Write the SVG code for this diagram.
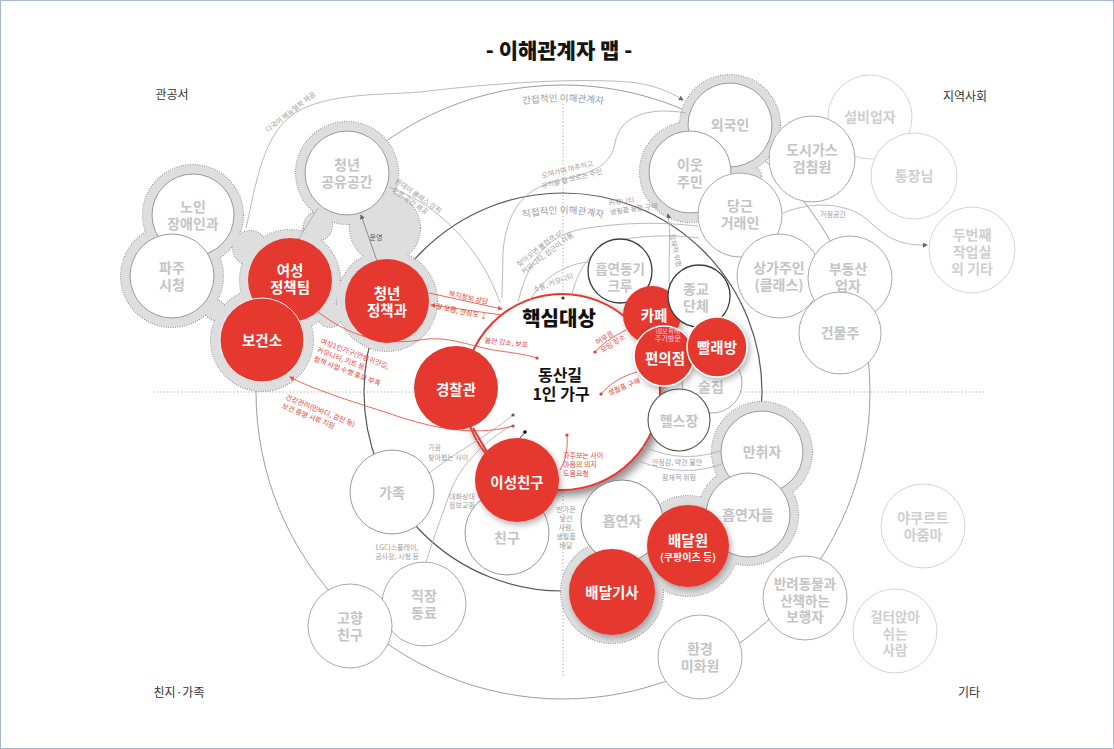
<svg xmlns="http://www.w3.org/2000/svg" width="1114" height="749" viewBox="0 0 1114 749">
<defs>
<style>
text{font-family:"Noto Sans CJK KR","Noto Sans",sans-serif}
.ttl{font-size:21px;font-weight:900;fill:#151515;text-anchor:middle}
.cor{font-size:12px;fill:#333;text-anchor:middle}
.lvl{font-size:9.5px;fill:#9a9a9a}
.nd circle{fill:#fff;stroke:#a9a9a9;stroke-width:1}
.nd text{font-size:14px;font-weight:700;fill:#c4c4c4;text-anchor:middle}
.far circle{stroke:#d4d4d4}
.far text{fill:#cfcfcf}
.dk circle{stroke:#3c3c3c;stroke-width:1.3}
.rn circle{fill:#e5382e;stroke:none}
.rn text{font-size:14.5px;font-weight:700;fill:#fff;text-anchor:middle}
.ring circle{fill:#dedede;stroke:#8e8e8e;stroke-width:2;stroke-dasharray:1 1.3}
.ringf circle{fill:#dedede}
.c{fill:none;stroke:#a8a8a8;stroke-width:.8}
.cr{fill:none;stroke:#e5574b;stroke-width:.9}
.cd{fill:none;stroke:#2a2a2a;stroke-width:.9}
.sl{font-size:7px;fill:#9d9d9d}
.slr{font-size:7px;fill:#e2443a}
.m{text-anchor:middle}
.big{fill:none;stroke:#9d9d9d;stroke-width:1}
.mid{fill:none;stroke:#555;stroke-width:1.2}
.dot{fill:none;stroke:#b5b5b5;stroke-width:1;stroke-dasharray:1.5 2}
</style>
<marker id="ag" viewBox="0 0 6 6" refX="5" refY="3" markerUnits="userSpaceOnUse" markerWidth="5" markerHeight="5" orient="auto"><path d="M0,0 L6,3 L0,6 z" fill="#666"/></marker>
<marker id="ar" viewBox="0 0 6 6" refX="5" refY="3" markerUnits="userSpaceOnUse" markerWidth="5" markerHeight="5" orient="auto"><path d="M0,0 L6,3 L0,6 z" fill="#e5574b"/></marker>
<filter id="sh" x="-20%" y="-20%" width="150%" height="150%"><feDropShadow dx="4" dy="5" stdDeviation="4" flood-color="#000" flood-opacity=".45"/></filter>
<filter id="sh2" x="-30%" y="-30%" width="170%" height="170%"><feDropShadow dx="2" dy="3" stdDeviation="3" flood-color="#000" flood-opacity=".3"/></filter>
<path id="arcOut" d="M440.2,128.7 A290.5 290.5 0 0 1 685.8,128.7"/>
<path id="arcIn" d="M473.75,237.4 A178.5 178.5 0 0 1 652.25,237.4"/>
</defs>
<rect x="0" y="0" width="1114" height="749" fill="#fff"/>
<rect x="0.5" y="0.5" width="1113" height="748" fill="none" stroke="#a9b8cf"/>

<text class="ttl" x="559" y="58">- 이해관계자 맵 -</text>
<text class="cor" x="172" y="99">관공서</text>
<text class="cor" x="965" y="101">지역사회</text>
<text class="cor" x="179" y="697">친지·가족</text>
<text class="cor" x="969" y="697">기타</text>

<g id="frame">
<line class="dot" x1="153" y1="392" x2="985" y2="392"/>
<line class="dot" x1="563" y1="104" x2="563" y2="677"/>
<circle class="big" cx="563" cy="392" r="307"/>
<circle class="mid" cx="563" cy="392" r="199"/>
<text class="lvl"><textPath href="#arcOut" startOffset="50%" text-anchor="middle">간접적인 이해관계자</textPath></text>
<text class="lvl"><textPath href="#arcIn" startOffset="50%" text-anchor="middle">직접적인 이해관계자</textPath></text>
</g>

<g id="blobs">
<g class="ring">
<circle cx="193" cy="215" r="50"/><circle cx="172" cy="276" r="51"/><circle cx="347" cy="173" r="51"/><circle cx="290" cy="280" r="50"/><circle cx="262" cy="340" r="51"/><circle cx="387" cy="301" r="50"/><circle cx="318" cy="226" r="14"/><circle cx="250" cy="248" r="17"/><circle cx="215" cy="310" r="10"/><circle cx="385" cy="228" r="35"/><circle cx="330" cy="315" r="12"/>
<circle cx="730" cy="125" r="50"/><circle cx="690" cy="172" r="50"/><circle cx="752" cy="176" r="9"/>
<circle cx="762" cy="452" r="50"/><circle cx="748" cy="515" r="50"/><circle cx="688" cy="546" r="50"/><circle cx="612" cy="592" r="51"/>
</g>
<g class="ringf">
<circle cx="193" cy="215" r="50"/><circle cx="172" cy="276" r="51"/><circle cx="347" cy="173" r="51"/><circle cx="290" cy="280" r="50"/><circle cx="262" cy="340" r="51"/><circle cx="387" cy="301" r="50"/><circle cx="318" cy="226" r="14"/><circle cx="250" cy="248" r="17"/><circle cx="215" cy="310" r="10"/><circle cx="385" cy="228" r="35"/><circle cx="330" cy="315" r="12"/>
<circle cx="730" cy="125" r="50"/><circle cx="690" cy="172" r="50"/><circle cx="752" cy="176" r="9"/>
<circle cx="762" cy="452" r="50"/><circle cx="748" cy="515" r="50"/><circle cx="688" cy="546" r="50"/><circle cx="612" cy="592" r="51"/>
</g>
</g>

<g id="core">
<circle cx="562" cy="392" r="98" fill="#fff" stroke="#e5382e" stroke-width="2" filter="url(#sh)"/>
<text x="559" y="326" font-size="20" font-weight="900" fill="#111" text-anchor="middle">핵심대상</text>
<text font-size="16" font-weight="700" fill="#111" text-anchor="middle"><tspan x="560" y="381">동산길</tspan><tspan x="561" dy="19">1인 가구</tspan></text>
</g>

<g id="connectors">
<path class="c" d="M246,228 C256,186 262,130 300,110 C334,93 380,95 420,92 C470,86 560,77 630,82 C655,85 670,92 683,100" marker-end="url(#ag)"/>
<path class="c" style="stroke:#777" d="M377,261 L361,215" marker-end="url(#ag)"/>
<path class="c" d="M298,240 L318,208"/>
<path class="c" d="M389,187 C440,205 482,250 500,303"/>
<path class="c" d="M686,113 C652,107 620,114 615,143 C611,168 588,174 556,181 C522,189 506,214 503,252 L502,298"/>
<path class="c" d="M518,302 C528,262 545,236 582,229 C622,222 662,222 698,226"/>
<path class="c" d="M572,294 C580,262 596,245 626,239 C656,234 682,236 699,238"/>
<path class="c" d="M590,262 C568,263 544,276 530,300"/>
<path class="c" d="M670,290 C667,265 672,240 668,214" marker-end="url(#ag)"/>
<path class="c" d="M783,213 C815,200 850,203 870,222 C888,240 905,246 927,245" marker-end="url(#ag)"/>
<path class="c" d="M428,474 C455,452 485,438 513,415"/>
<path class="c" d="M513,425 C485,440 461,465 451,490 C443,512 433,540 426,562"/>
<path class="c" d="M642,446 Q685,466 728,448"/>
<path class="c" d="M636,460 Q685,480 727,462"/>
<path class="cr" d="M318,312 C350,336 382,346 420,340 C450,335 470,347 500,351 C515,353 528,355 537,358"/>
<path class="cr" d="M513,426 C470,438 425,426 385,412 C340,398 306,386 290,377" marker-end="url(#ar)"/>
<path class="cr" d="M429,293 L502,309" marker-end="url(#ar)"/>
<path class="cr" d="M502,315 L431,305" marker-end="url(#ar)"/>
<path d="M473,428 L487,452" stroke="#e5382e" stroke-width="2" fill="none"/>
<path class="cr" d="M560,470 C566,460 568,448 567,435"/>
<path class="cr" d="M626,330 C612,337 601,345 595,352"/>
<path class="cr" d="M637,372 C622,376 608,385 601,394"/>
<path class="cd" d="M525,432 C505,458 485,462 481,485 C479,505 486,515 488,528"/>
<circle cx="563" cy="298" r="1.6" fill="#333"/>
<circle cx="513" cy="415" r="1.6" fill="#555"/>
<circle cx="513" cy="426" r="1.6" fill="#e5382e"/>
<circle cx="525" cy="432" r="1.8" fill="#111"/>
<circle cx="567" cy="435" r="1.6" fill="#e5382e"/>
<circle cx="595" cy="352" r="1.6" fill="#e5382e"/>
<circle cx="537" cy="358" r="1.6" fill="#e5382e"/>
<circle cx="601" cy="394" r="1.6" fill="#e5382e"/>
</g>

<g id="n-noin" class="nd"><circle cx="193" cy="215" r="41" style="stroke:#999"/><text><tspan x="193" y="212">노인</tspan><tspan x="193" dy="17">장애인과</tspan></text></g>
<g id="n-paju" class="nd"><circle cx="172" cy="276" r="42" style="stroke:#999"/><text><tspan x="172" y="273">파주</tspan><tspan x="172" dy="17">시청</tspan></text></g>
<g id="n-youthspace" class="nd"><circle cx="347" cy="173" r="42" style="stroke:#999"/><text><tspan x="347" y="170">청년</tspan><tspan x="347" dy="17">공유공간</tspan></text></g>
<g id="n-women" class="rn"><circle cx="290" cy="280" r="42"/><text><tspan x="290" y="276">여성</tspan><tspan x="290" dy="17">정책팀</tspan></text></g>
<g id="n-health" class="rn"><circle cx="262" cy="340" r="42" style="stroke:#f0f0f0;stroke-width:1"/><text x="262" y="346">보건소</text></g>
<g id="n-youthpolicy" class="rn"><circle cx="387" cy="301" r="42"/><text><tspan x="387" y="299">청년</tspan><tspan x="387" dy="17">정책과</tspan></text></g>

<g id="n-foreigner" class="nd"><circle cx="730" cy="125" r="42" style="stroke:#999"/><text x="730" y="130">외국인</text></g>
<g id="n-neighbor" class="nd"><circle cx="690" cy="172" r="41" style="stroke:#999"/><text><tspan x="690" y="170">이웃</tspan><tspan x="690" dy="17">주민</tspan></text></g>
<g id="n-facility" class="nd far"><circle cx="870" cy="117" r="42"/><text x="870" y="122">설비업자</text></g>
<g id="n-gas" class="nd"><circle cx="812" cy="159" r="43"/><text><tspan x="812" y="155">도시가스</tspan><tspan x="812" dy="17">검침원</tspan></text></g>
<g id="n-tongjang" class="nd far"><circle cx="914" cy="176" r="43"/><text x="914" y="181">통장님</text></g>
<g id="n-danggeun" class="nd"><circle cx="740" cy="215" r="42"/><text><tspan x="740" y="211">당근</tspan><tspan x="740" dy="17">거래인</tspan></text></g>
<g id="n-studio" class="nd far"><circle cx="972" cy="250" r="43"/><text><tspan x="972" y="240">두번째</tspan><tspan x="972" dy="17">작업실</tspan><tspan x="972" dy="17">외 기타</tspan></text></g>
<g id="n-shop" class="nd"><circle cx="779" cy="276" r="42"/><text><tspan x="779" y="273">상가주인</tspan><tspan x="779" dy="17">(클래스)</tspan></text></g>
<g id="n-realty" class="nd"><circle cx="850" cy="278" r="42"/><text><tspan x="848" y="274">부동산</tspan><tspan x="848" dy="17">업자</tspan></text></g>
<g id="n-owner" class="nd"><circle cx="840" cy="333" r="41"/><text x="840" y="338">건물주</text></g>

<g id="n-smokecrew" class="nd dk"><circle cx="620" cy="271" r="32"/><text style="font-size:13.5px"><tspan x="620" y="274">흡연동기</tspan><tspan x="620" dy="17">크루</tspan></text></g>
<g id="n-cafe" class="rn"><circle cx="652" cy="315" r="29" filter="url(#sh2)"/><text x="654" y="321">카페</text></g>
<g id="n-religion" class="nd dk"><circle cx="699" cy="296" r="31"/><text><tspan x="696" y="294">종교</tspan><tspan x="696" dy="17">단체</tspan></text></g>
<g id="n-bar" class="nd"><circle cx="712" cy="383" r="30"/><text x="711" y="392">술집</text></g>
<g id="n-gym" class="nd dk"><circle cx="679" cy="420" r="31" style="stroke:#555;stroke-width:1.1"/><text x="679" y="426">헬스장</text></g>
<g id="n-conv" class="rn"><circle cx="664" cy="356" r="30" filter="url(#sh2)" style="stroke:#fff;stroke-width:1.5"/><text style="font-weight:400;fill:#fde"><tspan x="668" y="333" style="font-size:5.5px">(정보 위해)</tspan><tspan x="668" dy="8" style="font-size:7px">주기방문</tspan></text><text x="665" y="364">편의점</text></g>
<g id="n-laundry" class="rn"><circle cx="717" cy="347" r="30" filter="url(#sh2)" style="stroke:#fff;stroke-width:1.5"/><text x="717" y="353">빨래방</text></g>

<g id="n-police" class="rn"><circle cx="456" cy="388" r="42"/><text x="456" y="395">경찰관</text></g>

<g id="n-drunk" class="nd"><circle cx="762" cy="452" r="41" style="stroke:#999"/><text x="762" y="457">만취자</text></g>
<g id="n-smokers" class="nd"><circle cx="748" cy="515" r="42" style="stroke:#999"/><text x="748" y="520">흡연자들</text></g>
<g id="n-smoker" class="nd"><circle cx="622" cy="521" r="41" style="stroke:#888"/><text x="622" y="526">흡연자</text></g>
<g id="n-delivery" class="rn"><circle cx="688" cy="546" r="41" filter="url(#sh2)"/><text><tspan x="688" y="546">배달원</tspan><tspan x="688" dy="15" style="font-size:10px">(쿠팡이츠 등)</tspan></text></g>
<g id="n-courier" class="rn"><circle cx="612" cy="592" r="43" filter="url(#sh2)"/><text x="612" y="598">배달기사</text></g>
<g id="n-cleaner" class="nd"><circle cx="700" cy="657" r="42"/><text><tspan x="700" y="654">환경</tspan><tspan x="700" dy="17">미화원</tspan></text></g>
<g id="n-walker" class="nd"><circle cx="805" cy="598" r="42"/><text style="font-size:13.5px"><tspan x="805" y="589">반려동물과</tspan><tspan x="805" dy="16.5">산책하는</tspan><tspan x="805" dy="16.5">보행자</tspan></text></g>
<g id="n-yakult" class="nd far"><circle cx="923" cy="526" r="42"/><text><tspan x="923" y="523">야쿠르트</tspan><tspan x="923" dy="17">아줌마</tspan></text></g>
<g id="n-sitter" class="nd far"><circle cx="895" cy="631" r="42"/><text style="font-size:13.5px"><tspan x="895" y="622">걸터앉아</tspan><tspan x="895" dy="16.5">쉬는</tspan><tspan x="895" dy="16.5">사람</tspan></text></g>

<g id="n-family" class="nd"><circle cx="392" cy="492" r="42" style="stroke:#999"/><text x="392" y="498">가족</text></g>
<g id="n-friend" class="nd"><circle cx="507" cy="533" r="42" style="stroke:#999"/><text x="507" y="543">친구</text></g>
<g id="n-partner" class="rn"><circle cx="517" cy="480" r="42" filter="url(#sh2)"/><text x="517" y="488">이성친구</text></g>
<g id="n-coworker" class="nd"><circle cx="424" cy="604" r="42"/><text><tspan x="424" y="601">직장</tspan><tspan x="424" dy="17">동료</tspan></text></g>
<g id="n-hometown" class="nd"><circle cx="350" cy="626" r="42"/><text><tspan x="350" y="623">고향</tspan><tspan x="350" dy="17">친구</tspan></text></g>

<g id="labels">
<text class="sl m" transform="translate(292,114) rotate(-38)">다국어 메뉴얼북 제공</text>
<text class="sl m" x="376" y="240" style="fill:#555">운영</text>
<text class="sl m" transform="translate(417,198) rotate(35)"><tspan x="0" y="0">원데이 클래스 강좌</tspan><tspan x="-4" dy="9">오픈 공간 제공</tspan></text>
<text class="sl m" transform="translate(568,172) rotate(-14)"><tspan x="0" y="0">오며가며 마주하고</tspan><tspan x="2" dy="10">규칙을 잘 모르는 주민</tspan></text>
<text class="sl m" transform="translate(541,250) rotate(-38)"><tspan x="0" y="0">찾아오면 불청객 or</tspan><tspan x="3" dy="9">커뮤니티, 접근이 쉬움</tspan></text>
<text class="sl m" transform="translate(554,285) rotate(-20)">소통, 커뮤니티</text>
<text class="sl" transform="translate(609,206) rotate(-8)"><tspan x="0" y="0">커뮤니티</tspan><tspan x="0" dy="9">생필품 용품 구매</tspan></text>
<text class="sl m" transform="translate(673,251) rotate(78)">잠재적 위험</text>
<text class="sl m" x="833" y="217">거점공간</text>
<text class="sl"><tspan x="428" y="450">가끔</tspan><tspan x="428" dy="10">찾아뵙는 사이</tspan></text>
<text class="sl m"><tspan x="462" y="499">대화상대</tspan><tspan x="462" dy="9">정보교환</tspan></text>
<text class="sl m"><tspan x="397" y="550">LG디스플레이,</tspan><tspan x="397" dy="9">공사장, 시청 등</tspan></text>
<text class="sl m"><tspan x="566" y="512">반가운</tspan><tspan x="566" dy="9">낯선</tspan><tspan x="566" dy="9">사람,</tspan><tspan x="566" dy="9">생필품</tspan><tspan x="566" dy="9">배달</tspan></text>
<text class="sl m"><tspan x="677" y="465">안정감, 약간 불안</tspan><tspan x="679" dy="15">잠재적 위험</tspan></text>
<text class="slr m" transform="translate(468,300) rotate(12)">복지정보 상담</text>
<text class="slr m" transform="translate(461,314) rotate(12)">잘 모름, 관심도 ↓</text>
<text class="slr m" transform="translate(506,345) rotate(6)">불안 감소, 보호</text>
<text class="slr m" transform="translate(606,340) rotate(-32)"><tspan x="0" y="0">머무름</tspan><tspan x="4" dy="9">모임 장소</tspan></text>
<text class="slr m" transform="translate(625,389) rotate(-22)">생필품 구매</text>
<text class="slr" transform="translate(320,343) rotate(21)"><tspan x="0" y="0">여성1인가구(안심귀갓길,</tspan><tspan x="0" dy="9.5">커뮤니티, 키트 등)</tspan><tspan x="0" dy="9.5">정책 사업 수행 홍보 부족</tspan></text>
<text class="slr" transform="translate(285,399) rotate(22)"><tspan x="0" y="0">건강관리(인바디, 검진 등)</tspan><tspan x="0" dy="9.5">보건 증명 서류 지원</tspan></text>
<text class="slr"><tspan x="563" y="458">자주보는 사이</tspan><tspan x="563" dy="9">마음의 의지</tspan><tspan x="563" dy="9">도움요청</tspan></text>
</g>
</svg>
